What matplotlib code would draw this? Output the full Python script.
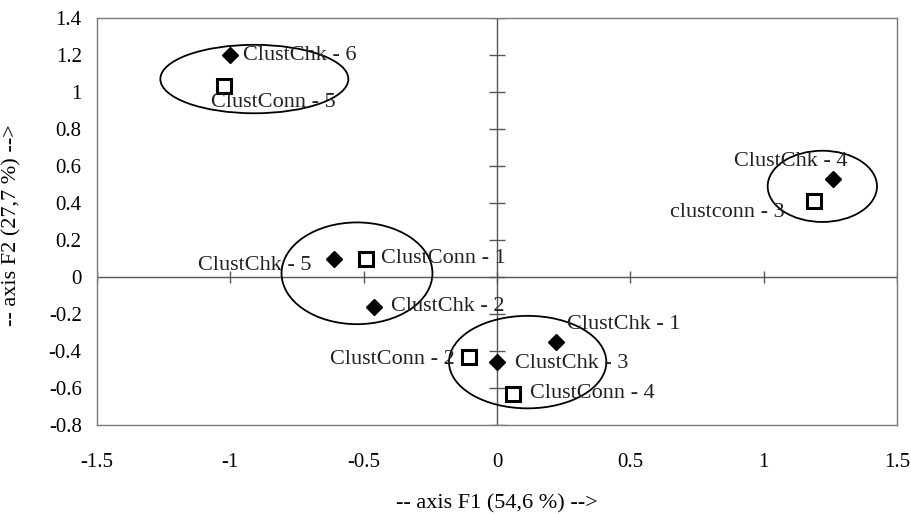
import matplotlib
matplotlib.use("Agg")
import matplotlib.pyplot as plt
from matplotlib.patches import Ellipse
import numpy as np

# =============================================================================
# data
# =============================================================================

chk_names = ["ClustChk - 1", "ClustChk - 2", "ClustChk - 3",
             "ClustChk - 4", "ClustChk - 5", "ClustChk - 6"]
chk_x = [0.22, -0.46, 0.0, 1.26, -0.61, -1.00]
chk_y = [-0.35, -0.16, -0.46, 0.53, 0.10, 1.20]

conn_names = ["ClustConn - 1", "ClustConn - 2", "clustconn - 3",
              "ClustConn - 4", "ClustConn - 5"]
conn_x = [-0.49, -0.105, 1.19, 0.06, -1.025]
conn_y = [0.10, -0.43, 0.41, -0.63, 1.03]

# hand drawn groupings
ell_cx = [-0.91, -0.525, 0.115, 1.22]
ell_cy = [1.07, 0.02, -0.46, 0.49]
ell_w = [0.705, 0.566, 0.59, 0.41]
ell_h = [0.37, 0.55, 0.50, 0.385]

xticks = [-1.5, -1, -0.5, 0, 0.5, 1, 1.5]
xtick_labels = ["-1.5", "-1", "-0.5", "0", "0.5", "1", "1.5"]
yticks = [-0.8, -0.6, -0.4, -0.2, 0, 0.2, 0.4, 0.6, 0.8, 1, 1.2, 1.4]
ytick_labels = ["-0.8", "-0.6", "-0.4", "-0.2", "0", "0.2", "0.4",
                "0.6", "0.8", "1", "1.2", "1.4"]

# label offsets in pixels (dx, dy, ha)
chk_off = [(11, 17, "left"), (17, 0, "left"), (18, -1, "left"),
           (15, 17, "right"), (-23, -7, "right"), (13, 0, "left")]
conn_off = [(15, 0, "left"), (-14, -3, "right"), (-30, -11, "right"),
            (17, 0, "left"), (-13, -16, "left")]

# =============================================================================
# plot
# =============================================================================

plt.rcParams['font.family'] = ['Liberation Serif', 'DejaVu Serif']

fig = plt.figure(figsize=(9.11, 5.14), dpi=100)
fig.set_facecolor('w')
ax = fig.add_axes([97/911, 1 - 425/514, 800/911, 407/514])

frame_col = '#7a7a7a'
for sp in ax.spines.values():
    sp.set_color(frame_col)
    sp.set_linewidth(1.0)

ax.set_xlim(-1.5, 1.5)
ax.set_ylim(-0.8, 1.4)
ax.set_xticks(xticks)
ax.set_xticklabels(xtick_labels)
ax.set_yticks(yticks)
ax.set_yticklabels(ytick_labels)
ax.tick_params(axis='x', length=0, pad=20, labelsize=15)
ax.tick_params(axis='y', length=0, pad=11, labelsize=15)

# zero axes with cross ticks
ax.axhline(0, color='#555555', linewidth=1.0, zorder=1)
ax.axvline(0, color='#555555', linewidth=1.0, zorder=1)
ax.plot(xticks, np.zeros(len(xticks)), linestyle='none', marker='|',
        markersize=8, color='#555555', markeredgewidth=1.0, zorder=1)
ax.plot(np.zeros(len(yticks)), yticks, linestyle='none', marker='_',
        markersize=11, color='#555555', markeredgewidth=1.0, zorder=1)

for cx, cy, w, h in zip(ell_cx, ell_cy, ell_w, ell_h):
    ax.add_patch(Ellipse((cx, cy), w, h, fill=False, edgecolor='k',
                         linewidth=1.3, zorder=2))

ax.plot(chk_x, chk_y, linestyle='none', marker='D', markersize=8,
        color='k', zorder=4)
ax.plot(conn_x, conn_y, linestyle='none', marker='s', markersize=10,
        markerfacecolor='w', markeredgecolor='k', markeredgewidth=2.2,
        zorder=4)

for name, x, y, (dx, dy, ha) in zip(chk_names, chk_x, chk_y, chk_off):
    ax.annotate(name, (x, y), xytext=(dx, dy), textcoords='offset pixels',
                ha=ha, va='center', fontsize=16, color='#222222', zorder=5)
for name, x, y, (dx, dy, ha) in zip(conn_names, conn_x, conn_y, conn_off):
    ax.annotate(name, (x, y), xytext=(dx, dy), textcoords='offset pixels',
                ha=ha, va='center', fontsize=16, color='#222222', zorder=5)

ax.set_xlabel('-- axis F1 (54,6 %) -->', fontsize=16)
ax.set_ylabel('-- axis F2 (27,7 %) -->', fontsize=16)
ax.xaxis.set_label_coords(0.4996, -0.169)
ax.yaxis.set_label_coords(-0.095, 0.49)

plt.savefig('out.png', dpi=100)
